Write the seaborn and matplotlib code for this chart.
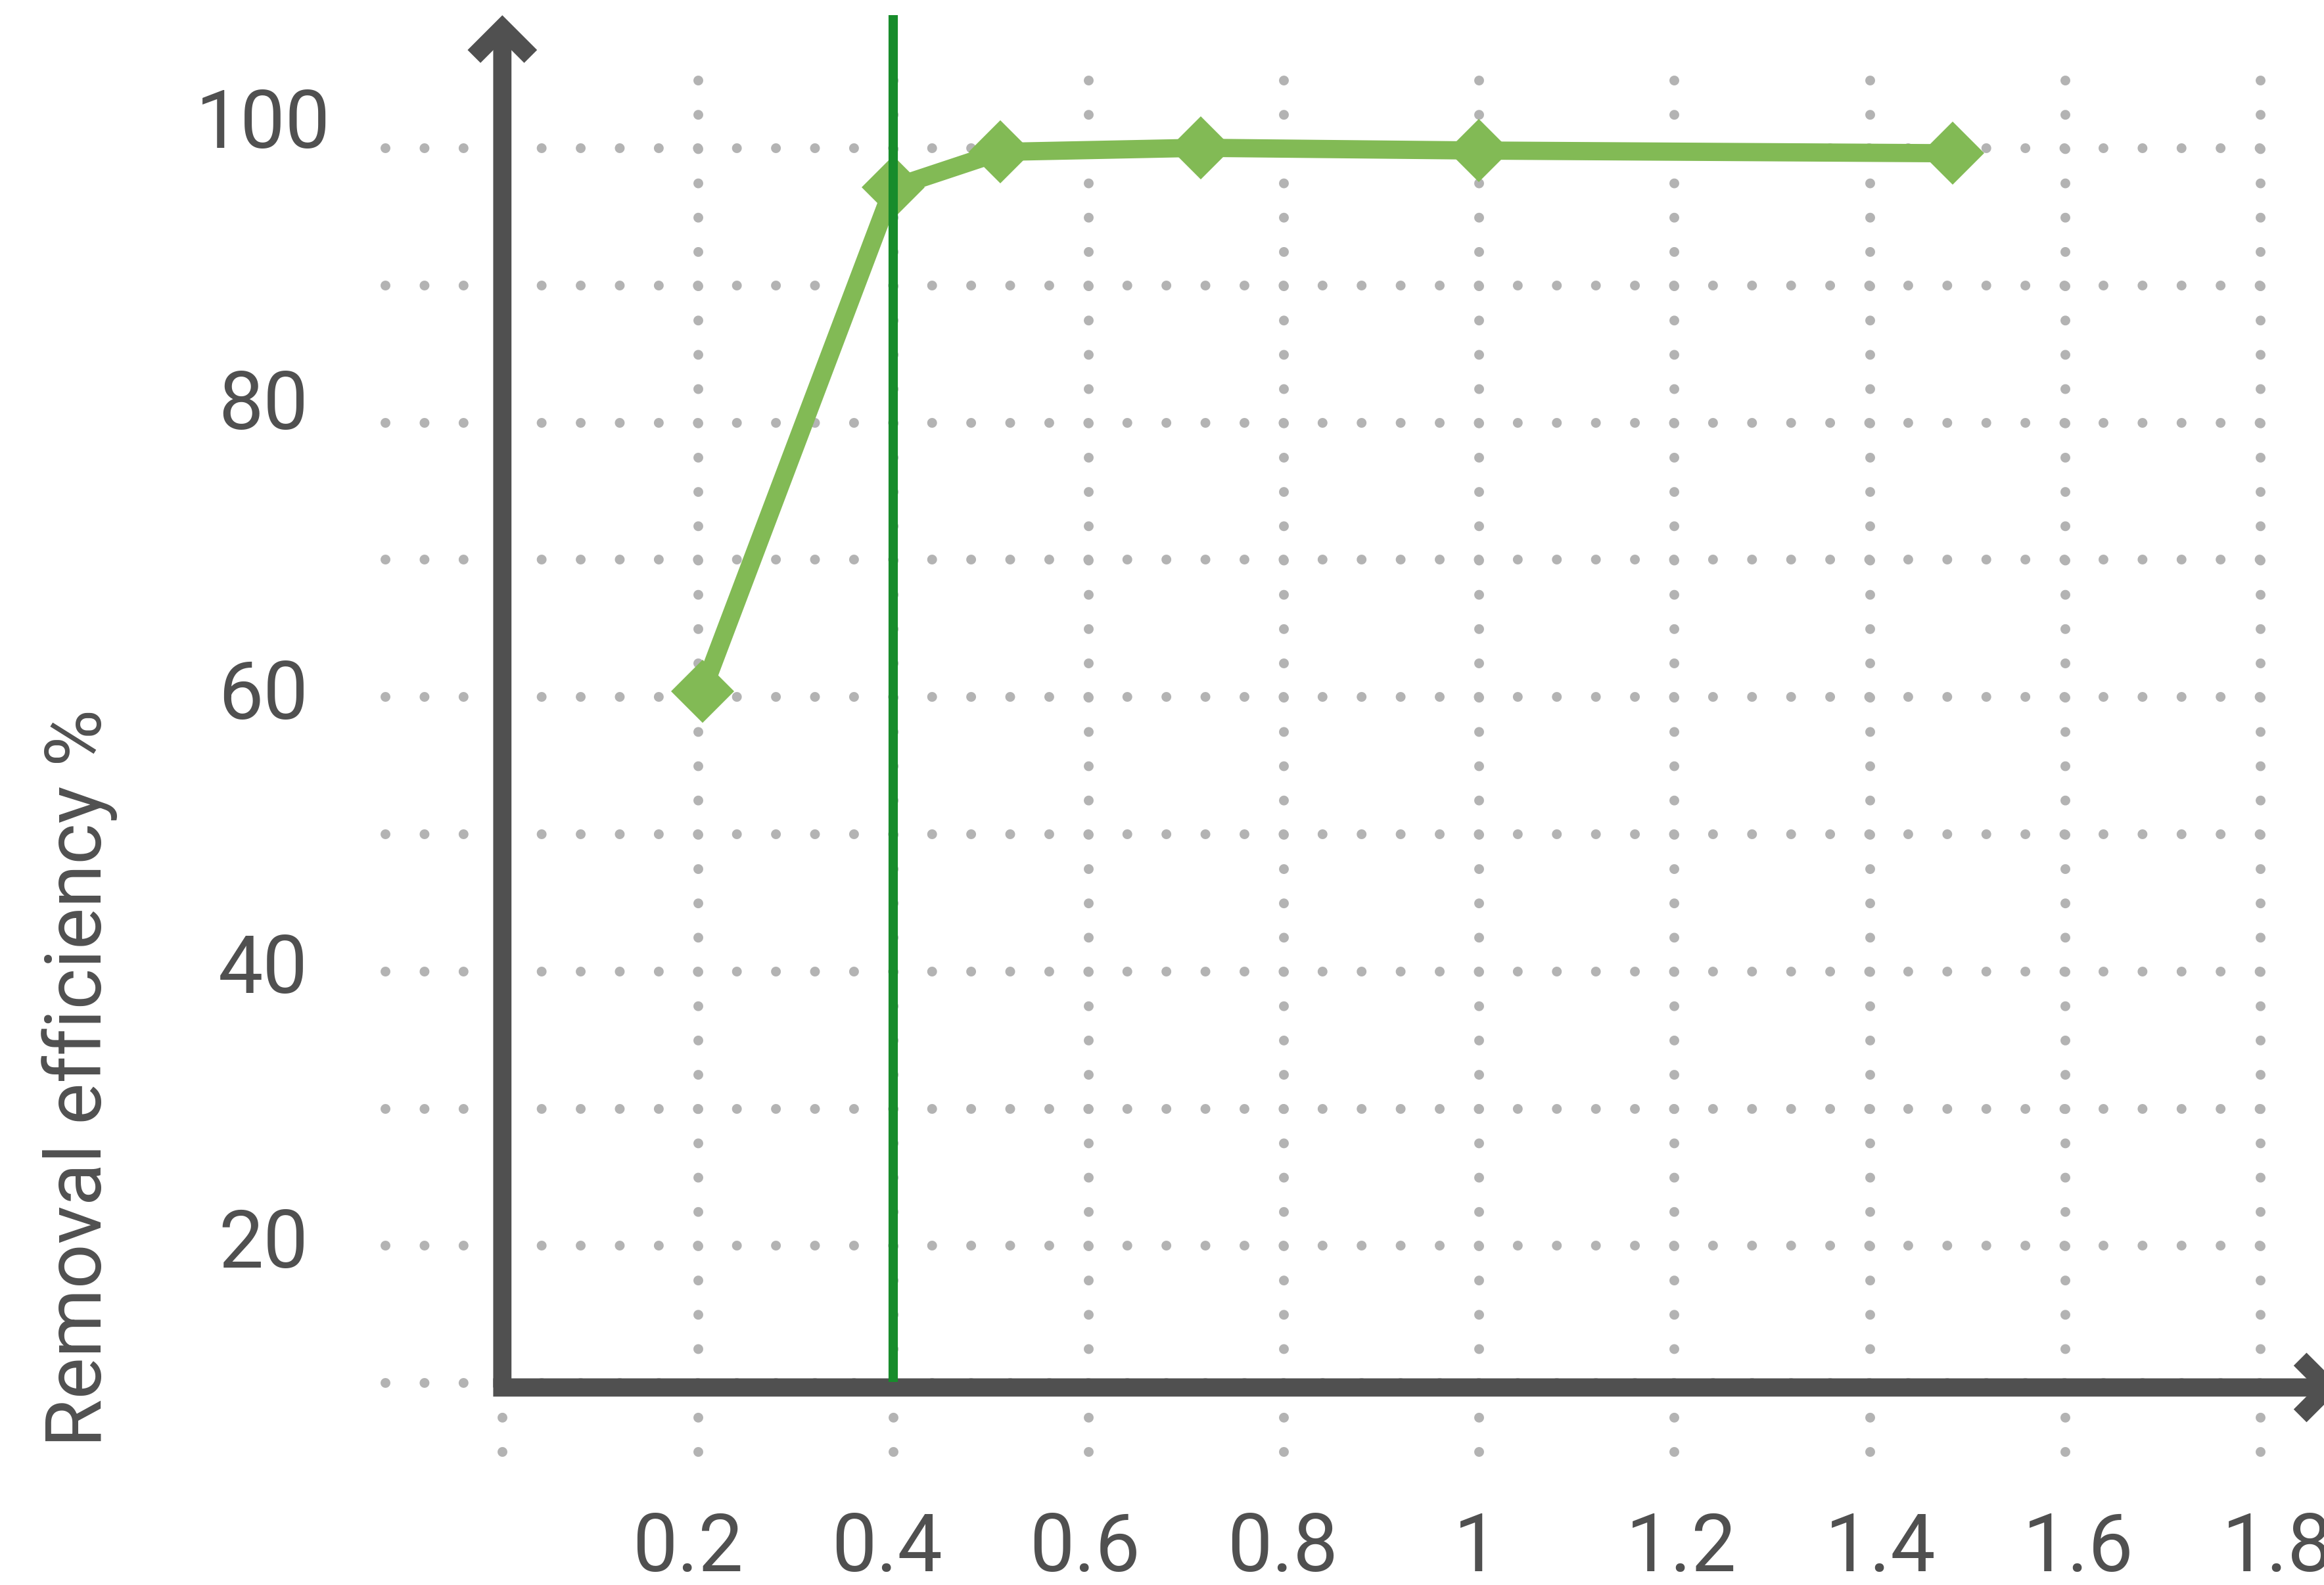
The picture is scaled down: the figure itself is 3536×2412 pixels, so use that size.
import numpy as np
import pandas as pd
import seaborn as sns
import matplotlib.pyplot as plt
from matplotlib.transforms import ScaledTranslation

sns.set_theme(style='white')
plt.rcParams['font.family'] = ['Roboto', 'DejaVu Sans']

# values
dose = [0.205, 0.4, 0.51, 0.715, 1.0, 1.485]
removal = [60.4, 97.1, 99.7, 100.0, 99.8, 99.6]
optimum_dose = 0.4

x_ticks = [0, 0.2, 0.4, 0.6, 0.8, 1.0, 1.2, 1.4, 1.6, 1.8]
x_labels = ['', '0.2', '0.4', '0.6', '0.8', '1', '1.2', '1.4', '1.6', '1.8']
y_ticks = [10, 20, 30, 40, 50, 60, 70, 80, 90, 100]
y_labels = ['', '20', '', '40', '', '60', '', '80', '', '100']
y_title = 'Removal efficiency %'

# the labels in the original are slightly off their ticks (points)
x_label_shift = [0, -5.4, -3.2, -1.8, -0.7, -1.4, 4.0, 6.1, 7.2, 9.4]
y_label_shift = [0, 0, 0, 0, 0, 0, 0, 8.3, 0, 11.9]

df = pd.DataFrame({'dose': dose, 'removal': removal})

ink = '#505050'
dot_grey = '#b3b3b3'
light_green = '#82ba55'
dark_green = '#178c2b'

W, H, DPI = 3537, 2412, 200
fig = plt.figure(figsize=(W / DPI, H / DPI), dpi=DPI, facecolor='white')
ax = fig.add_axes([586 / W, (H - 2208.5) / H, 2853 / W, 2088 / H])
xmin, xmax, ymin, ymax = -0.12, 1.8, 5, 105
ax.set_xlim(xmin, xmax)
ax.set_ylim(ymin, ymax)
for s in ax.spines.values():
    s.set_visible(False)

ax.set_xticks(x_ticks, x_labels)
ax.set_yticks(y_ticks, y_labels, ha='center', va='center')
ax.tick_params(length=0, colors=ink, labelsize=43.8)
ax.tick_params(axis='x', pad=32.7)
ax.tick_params(axis='y', pad=66.8)

for lab, dx in zip(ax.get_xticklabels(), x_label_shift):
    lab.set_transform(lab.get_transform() + ScaledTranslation(dx / 72, 0, fig.dpi_scale_trans))
for lab, dy in zip(ax.get_yticklabels(), y_label_shift):
    lab.set_transform(lab.get_transform() + ScaledTranslation(0, dy / 72, fig.dpi_scale_trans))

# dotted grid, one dot every 0.04 along x and every 2.5 along y
# (gap trimmed a hair so the last dot at the line end is not lost)
px_x = 2853 / (xmax - xmin)
px_y = 2088 / (ymax - ymin)
dot_pt = 5.4
dot_px = dot_pt * DPI / 72
gap_h = 0.04 * px_x / dot_px * 0.9995 - 0.001
gap_v = 2.5 * px_y / dot_px * 0.9995 - 0.001
ax.grid(axis='y', color=dot_grey, lw=dot_pt, linestyle=(0, (0.001, gap_h)))
ax.grid(axis='x', color=dot_grey, lw=dot_pt, linestyle=(0, (0.001, gap_v)))
for gl in ax.get_xgridlines() + ax.get_ygridlines():
    gl.set_dash_capstyle('round')
    gl.set_clip_on(False)

# axes drawn as thick arrows with open heads
axis_lw = 10
axis_y0 = 9.65
x_tip, y_tip = 1.883, 109.66
half_w = axis_lw / 2 * DPI / 72 / px_x
head = dict(arrowstyle='->,head_length=1,head_width=1', mutation_scale=15.5,
            lw=axis_lw, color=ink, shrinkA=0, shrinkB=0,
            joinstyle='miter', capstyle='butt')
ax.annotate('', xy=(0, y_tip), xytext=(0, axis_y0), arrowprops=head,
            annotation_clip=False, zorder=3)
ax.annotate('', xy=(x_tip, axis_y0), xytext=(-half_w, axis_y0), arrowprops=head,
            annotation_clip=False, zorder=3)

sns.lineplot(data=df, x='dose', y='removal', ax=ax, color=light_green, lw=10,
             marker='D', markersize=24.2, markeredgewidth=0, zorder=4,
             clip_on=False)
ax.vlines(optimum_dose, 10.05, y_tip, color=dark_green, lw=5.1,
          zorder=5, clip_on=False)
ax.set(xlabel='', ylabel='')

fig.text(120.7 / W, 1 - 1640 / H, y_title, rotation=90, ha='center',
         va='center', fontsize=43, color=ink)

fig.savefig('out.png', dpi=DPI, facecolor='white')
